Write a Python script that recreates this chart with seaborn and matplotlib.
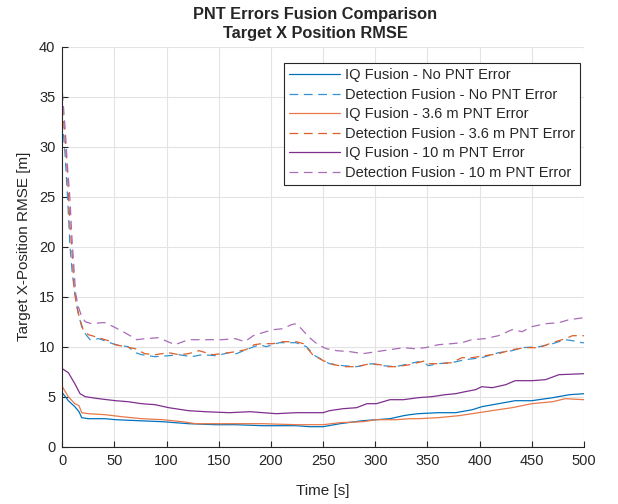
import pandas as pd
import matplotlib
matplotlib.use('Agg')
import matplotlib.pyplot as plt
import seaborn as sns

# Series (time [s], RMSE [m])
t_iq_none = [0, 5.8, 12, 16, 18.6, 25, 41, 51, 73, 96, 121, 147, 166, 192, 224, 237, 250,
             266, 288, 301, 314, 327, 333, 341, 360, 377, 393, 402, 418, 434, 450, 470, 486, 500]
v_iq_none = [5.4, 4.6, 4.0, 3.5, 2.9, 2.8, 2.8, 2.7, 2.6, 2.5, 2.3, 2.2, 2.2, 2.1, 2.1, 2.0, 2.0,
             2.3, 2.6, 2.7, 2.8, 3.1, 3.2, 3.3, 3.4, 3.4, 3.7, 4.0, 4.3, 4.6, 4.6, 4.9, 5.2, 5.3]

t_det_none = [0, 2.6, 5, 7.4, 9.6, 12, 15.4, 18.6, 22, 26.6, 35, 51, 63, 70, 76, 89, 102, 111.5,
              124, 134, 147, 160, 167, 176, 189, 195.5, 208, 224, 234, 242, 256, 269, 282, 296.5,
              308, 319, 333, 341, 348, 351, 360, 373, 386, 402, 418, 431, 441, 457, 470, 482,
              489, 498, 500]
v_det_none = [32.7, 29.3, 25, 20, 17.3, 15.3, 13.3, 12, 11.3, 10.7, 10.8, 10.2, 10.0, 9.4, 9.2,
              9.0, 9.1, 9.2, 9.0, 9.2, 9.1, 9.4, 9.3, 9.7, 10.2, 10.0, 10.4, 10.4, 10.0, 9.1, 8.3,
              8.1, 8.0, 8.3, 8.1, 8.0, 8.3, 8.5, 8.3, 8.1, 8.3, 8.4, 8.7, 8.9, 9.4, 9.6, 9.9, 10.0,
              10.3, 10.7, 10.6, 10.4, 10.4]

t_iq_36 = [0, 5.8, 12, 16, 18.6, 25, 41, 57, 76, 96, 115, 128, 147, 166, 192, 224, 250, 266,
           288, 301, 320, 333, 341, 360, 380, 399, 418, 431, 450, 470, 482, 500]
v_iq_36 = [6.0, 5.0, 4.3, 4.1, 3.4, 3.3, 3.2, 3.0, 2.8, 2.7, 2.5, 2.3, 2.3, 2.3, 2.3, 2.2, 2.2,
           2.4, 2.5, 2.7, 2.7, 2.8, 2.8, 2.9, 3.1, 3.4, 3.7, 3.9, 4.3, 4.5, 4.8, 4.7]

t_det_36 = [0, 2.6, 5, 7.4, 9, 11.5, 13.8, 17, 20, 25, 35, 44, 51, 60, 70, 79, 89, 102, 111.5,
            121, 131, 144, 153, 166, 176, 184, 191, 202, 211.5, 224, 231, 240, 250, 260, 272,
            282, 295, 304.5, 311, 320.5, 333, 348, 351, 360.5, 373, 383, 392.5, 405, 418, 431,
            444, 457, 469.5, 482, 489, 500]
v_det_36 = [34, 31, 27.3, 22, 20, 15.7, 14, 12.7, 11.7, 11.2, 10.9, 10.6, 10.2, 10.0, 9.8, 9.3,
            9.2, 9.4, 9.2, 9.3, 9.6, 9.2, 9.3, 9.5, 9.7, 10.2, 10.3, 10.3, 10.5, 10.5, 10.3, 9.2,
            8.6, 8.2, 8.0, 8.0, 8.3, 8.2, 8.0, 8.0, 8.2, 8.6, 8.3, 8.3, 8.4, 8.9, 8.9, 9.1, 9.3,
            9.7, 9.9, 9.9, 10.4, 10.8, 11.1, 11.1]

t_iq_10 = [0, 5.8, 12, 17, 22, 35, 51, 63, 76, 89, 102, 121, 137, 160, 180, 205, 224, 250, 256,
           269, 282, 292, 301, 314, 327, 341, 354, 367, 377, 386, 396, 402, 412, 425, 434, 450,
           463, 476, 500]
v_iq_10 = [7.8, 7.4, 6.3, 5.3, 5.0, 4.8, 4.6, 4.5, 4.3, 4.2, 3.9, 3.6, 3.5, 3.4, 3.5, 3.3, 3.4,
           3.4, 3.6, 3.8, 3.9, 4.3, 4.3, 4.7, 4.7, 4.9, 5.0, 5.2, 5.3, 5.5, 5.7, 6.0, 5.9, 6.2,
           6.6, 6.6, 6.7, 7.2, 7.3]

t_det_10 = [0, 2.6, 5, 7.4, 9, 10.6, 12.8, 15.4, 18.6, 22, 28, 38, 41, 49, 60, 71.5, 79, 92,
            108, 121, 140, 153, 166, 175, 183, 192, 202, 211.5, 219.5, 224, 229, 237, 245, 253,
            263, 276, 288, 301, 314, 327, 338, 348, 360.5, 373, 383, 392.5, 405, 418, 431,
            440.7, 450, 463, 476, 485.6, 500]
v_det_10 = [35.5, 32, 28, 24.7, 21.3, 18.7, 15.3, 14, 13, 12.5, 12.3, 12.4, 12.4, 12.0, 11.4,
            10.7, 10.8, 10.9, 10.2, 10.7, 10.7, 10.7, 10.8, 10.5, 11.1, 11.4, 11.7, 11.8, 12.2,
            12.3, 11.8, 10.9, 10.2, 9.8, 9.6, 9.5, 9.3, 9.5, 9.7, 9.9, 9.8, 9.9, 10.2, 10.3,
            10.4, 10.7, 10.8, 11.1, 11.7, 11.5, 12.0, 12.3, 12.4, 12.7, 12.9]

series = [
    ('IQ Fusion - No PNT Error', t_iq_none, v_iq_none, '#0072BD', '-'),
    ('Detection Fusion - No PNT Error', t_det_none, v_det_none, '#3593D3', '--'),
    ('IQ Fusion - 3.6 m PNT Error', t_iq_36, v_iq_36, '#E8784A', '-'),
    ('Detection Fusion - 3.6 m PNT Error', t_det_36, v_det_36, '#DD5F2A', '--'),
    ('IQ Fusion - 10 m PNT Error', t_iq_10, v_iq_10, '#7E2F8E', '-'),
    ('Detection Fusion - 10 m PNT Error', t_det_10, v_det_10, '#A96BB8', '--'),
]

sns.set_style('ticks')
plt.rcParams['font.family'] = ['Liberation Sans', 'DejaVu Sans']

fig = plt.figure(figsize=(6.18, 5.04), dpi=100)
ax = fig.add_axes([0.1008, 0.1137, 0.8442, 0.7937])

for name, t, v, col, ls in series:
    df = pd.DataFrame({'Time': t, 'RMSE': v})
    sns.lineplot(data=df, x='Time', y='RMSE', ax=ax, color=col, linewidth=0.9,
                 label=name, estimator=None, sort=False)
    l = ax.lines[-1]
    l.set_linestyle(ls)
    if ls == '--':
        l.set_dashes((7, 4.5))

ax.set_xlim(0, 500)
ax.set_ylim(0, 40)
ax.set_xticks(range(0, 501, 50))
ax.set_yticks(range(0, 41, 5))
ax.grid(True, color='#E3E3E3', linewidth=0.8)
ax.set_axisbelow(True)
for s in ['top', 'right']:
    ax.spines[s].set_visible(False)
for s in ['left', 'bottom']:
    ax.spines[s].set_color('#262626')
    ax.spines[s].set_linewidth(0.8)
ax.tick_params(direction='in', length=4, width=0.8, color='#262626',
               labelsize=10.5, labelcolor='#262626', pad=5)

ax.set_xlabel('Time [s]', fontsize=11, color='#262626', labelpad=12)
ax.set_ylabel('Target X-Position RMSE [m]', fontsize=11, color='#262626', labelpad=6)
ax.set_title('PNT Errors Fusion Comparison\nTarget X Position RMSE', x=0.485,
             fontsize=11.8, fontweight='bold', linespacing=1.35, pad=6)

leg = ax.legend(loc='upper right', bbox_to_anchor=(0.9923, 0.959), borderaxespad=0,
                fontsize=10.5, frameon=True, fancybox=False, framealpha=1,
                handlelength=3.5, handletextpad=0.3, labelspacing=0.38,
                borderpad=0.35)
leg.get_frame().set_edgecolor('#262626')
leg.get_frame().set_linewidth(0.8)
for lh, (name, t, v, col, ls) in zip(leg.get_lines(), series):
    lh.set_linestyle(ls)
    if ls == '--':
        lh.set_dashes((7, 4.5))

fig.savefig('out.png', dpi=100)
